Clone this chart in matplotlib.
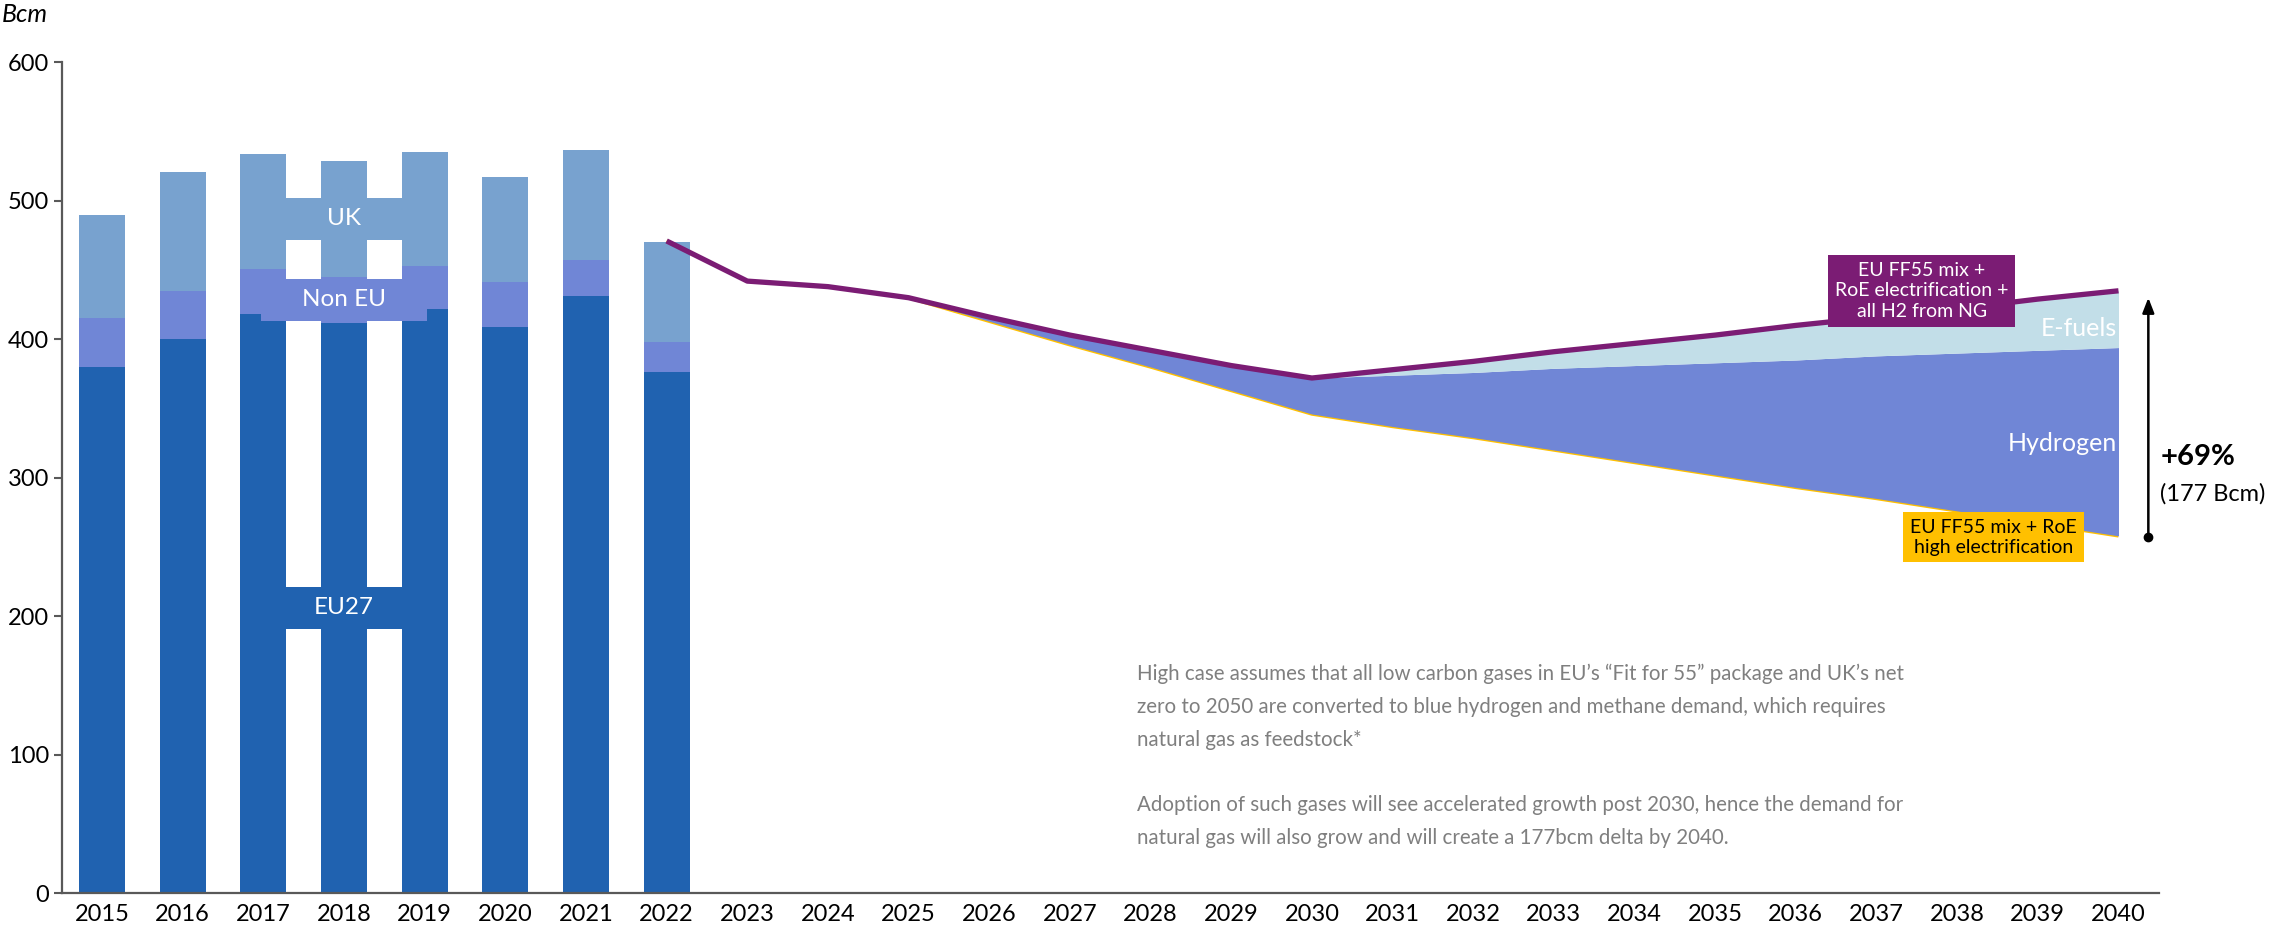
import matplotlib.pyplot as plt
from matplotlib.patches import Rectangle

plt.rcParams['font.family'] = ['Lato', 'DejaVu Sans']

# --- data -------------------------------------------------------------
years = list(range(2015, 2041))
hist_years = list(range(2015, 2023))
eu27 = [380, 400, 418, 412, 422, 409, 431, 376]
non_eu = [35, 35, 33, 33, 31, 32, 26, 22]
uk = [75, 86, 83, 84, 82, 76, 80, 72]

proj_years = list(range(2022, 2041))
high_case = [471, 442, 438, 430, 416, 403, 392, 381, 372,
             378, 384, 391, 397, 403, 410, 416, 422, 429, 435]
hydrogen_top = [471, 442, 438, 430, 416, 403, 392, 381, 372,
                374, 376, 379, 381, 383, 385, 388, 390, 392, 394]
low_case = [471, 442, 438, 430, 413, 396, 380, 363, 346,
            337, 329, 320, 311, 302, 293, 285, 276, 267, 258]

c_eu = '#2062B0'
c_non = '#7086D6'
c_uk = '#78A2CF'
c_efuel = '#C2DEE8'
c_purple = '#7B1C74'
c_orange = '#FFC000'
c_axis = '#595959'

fig = plt.figure(figsize=(22.77, 9.35), dpi=100)
ax = fig.add_axes([0.0271, 0.0449, 0.9210, 0.8884])

xh = [years.index(y) for y in hist_years]
xp = [years.index(y) for y in proj_years]
w = 0.57
b2 = [a + b for a, b in zip(eu27, non_eu)]
ax.bar(xh, eu27, w, color=c_eu, zorder=2)
ax.bar(xh, non_eu, w, bottom=eu27, color=c_non, zorder=2)
ax.bar(xh, uk, w, bottom=b2, color=c_uk, zorder=2)

# segment labels on the 2018 bar
i = hist_years.index(2018)
lab_x = xh[i]
segs = [('EU27', eu27[i] / 2, c_eu, 1.43),
        ('Non EU', eu27[i] + non_eu[i] / 2, c_non, 2.07),
        ('UK', b2[i] + uk[i] / 2, c_uk, 1.43)]
for txt, yc, col, bw in segs:
    ax.add_patch(Rectangle((lab_x - bw / 2, yc - 15), bw, 30, color=col, zorder=3, lw=0))
    ax.text(lab_x, yc, txt, color='white', ha='center', va='center', fontsize=17.5, zorder=4)

# projections
ax.plot(xp, low_case, color=c_orange, lw=2.5, zorder=3, solid_capstyle='butt')
ax.fill_between(xp, low_case, hydrogen_top, color=c_non, lw=0, zorder=3)
ax.fill_between(xp, hydrogen_top, high_case, color=c_efuel, lw=0, zorder=3)
ax.plot(xp, high_case, color=c_purple, lw=3.8, zorder=4, solid_capstyle='butt')

ax.text(24.98, 408, 'E-fuels', color='white', ha='right', va='center', fontsize=18, zorder=5)
ax.text(24.98, 325, 'Hydrogen', color='white', ha='right', va='center', fontsize=18, zorder=5)

ax.text(22.56, 435, 'EU FF55 mix +\nRoE electrification +\nall H2 from NG', color='white',
        ha='center', va='center', fontsize=14, linespacing=1.25, zorder=6,
        bbox=dict(boxstyle='square,pad=0.35', fc=c_purple, ec='none'))
ax.text(23.45, 257, 'EU FF55 mix + RoE\nhigh electrification', color='black',
        ha='center', va='center', fontsize=14, linespacing=1.2, zorder=6,
        bbox=dict(boxstyle='square,pad=0.35', fc=c_orange, ec='none'))

# delta arrow
ax.annotate('', xy=(25.37, 432), xytext=(25.37, 257), annotation_clip=False,
            arrowprops=dict(arrowstyle='-|>,head_width=0.35,head_length=0.9', color='black', lw=1.8))
ax.plot([25.37], [257], 'o', color='black', ms=6, clip_on=False, zorder=6)
ax.text(25.52, 315, '+69%', fontsize=21, fontweight='bold', va='center', ha='left')
ax.text(25.52, 288, '(177 Bcm)', fontsize=17, va='center', ha='left')

# axes styling
ax.set_xlim(-0.5, 25.5)
ax.set_ylim(0, 600)
ax.set_xticks(range(len(years)))
ax.set_xticklabels([str(y) for y in years], fontsize=17)
ax.set_yticks(range(0, 601, 100))
ax.tick_params(axis='y', labelsize=17, length=6, width=1.5, color=c_axis, pad=3)
ax.tick_params(axis='x', length=0, pad=8)
for s in ['top', 'right']:
    ax.spines[s].set_visible(False)
for s in ['left', 'bottom']:
    ax.spines[s].set_color(c_axis)
    ax.spines[s].set_linewidth(1.6)

fig.text(0.001, 0.997, 'Bcm', fontsize=18, style='italic', va='top', ha='left')

note = ("High case assumes that all low carbon gases in EU\u2019s \u201cFit for 55\u201d package and UK\u2019s net\n"
        "zero to 2050 are converted to blue hydrogen and methane demand, which requires\n"
        "natural gas as feedstock*\n\n"
        "Adoption of such gases will see accelerated growth post 2030, hence the demand for\n"
        "natural gas will also grow and will create a 177bcm delta by 2040.")
fig.text(0.4994, 0.290, note, fontsize=14.8, color='#7F7F7F', va='top', ha='left', linespacing=1.8)

fig.savefig('out.png', dpi=100)
